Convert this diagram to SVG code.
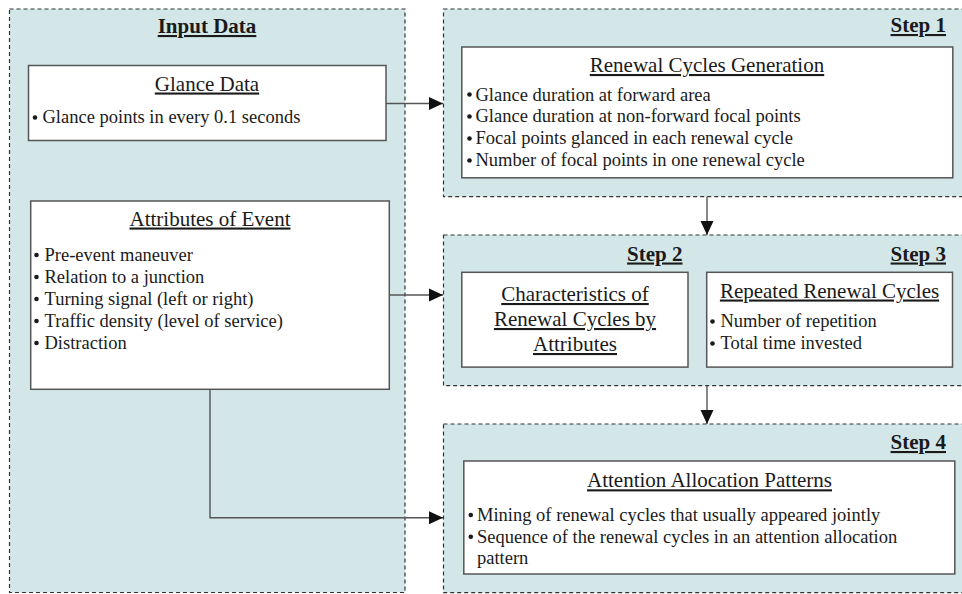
<svg xmlns="http://www.w3.org/2000/svg" width="962" height="594" viewBox="0 0 962 594">
<style>
.cont{fill:#d3e7e9;stroke:#333;stroke-width:1.2;stroke-dasharray:4,3}
.box{fill:#fff;stroke:#555;stroke-width:1.5}
text{font-family:"Liberation Serif","Times New Roman",serif;fill:#1a1a1a}
.hdr{font-size:21px;font-weight:bold;text-decoration:underline}
.ttl{font-size:21px;text-decoration:underline;text-anchor:middle}
.bul{font-size:18.5px}
.dot{fill:#1a1a1a}
.con{fill:none;stroke:#555;stroke-width:1.4}
</style>
<defs>
<marker id="ah" viewBox="0 0 14 14" refX="14" refY="7" markerWidth="14" markerHeight="14" markerUnits="userSpaceOnUse" orient="auto">
<path d="M0,0.5 L14,7 L0,13.5 Z" fill="#111"/>
</marker>
</defs>
<rect width="962" height="594" fill="#fff"/>

<g id="input-data">
<rect class="cont" x="9.5" y="9" width="395.5" height="583.5"/>
<text class="hdr" x="207" y="33" text-anchor="middle">Input Data</text>
</g>
<g id="step1">
<rect class="cont" x="443.5" y="9" width="530" height="187.7"/>
<text class="hdr" x="946" y="32" text-anchor="end">Step 1</text>
</g>
<g id="step23">
<rect class="cont" x="443.5" y="235" width="530" height="150.7"/>
<text class="hdr" x="682.5" y="260.5" text-anchor="end">Step 2</text>
<text class="hdr" x="946" y="260.5" text-anchor="end">Step 3</text>
</g>
<g id="step4">
<rect class="cont" x="443.5" y="424" width="530" height="168.7"/>
<text class="hdr" x="946" y="449" text-anchor="end">Step 4</text>
</g>

<g id="glance-data">
<rect class="box" x="28.5" y="65.5" width="357.5" height="75"/>
<text class="ttl" x="207" y="90.5">Glance Data</text>
<circle class="dot" cx="35" cy="117.5" r="2.3"/>
<text class="bul" x="42.5" y="123.3">Glance points in every 0.1 seconds</text>
</g>

<g id="attributes">
<rect class="box" x="30.7" y="201" width="358.6" height="188.3"/>
<text class="ttl" x="210" y="225.5">Attributes of Event</text>
<circle class="dot" cx="36.5" cy="255" r="2.3"/>
<text class="bul" x="44.5" y="261">Pre-event maneuver</text>
<circle class="dot" cx="36.5" cy="277" r="2.3"/>
<text class="bul" x="44.5" y="283">Relation to a junction</text>
<circle class="dot" cx="36.5" cy="299" r="2.3"/>
<text class="bul" x="44.5" y="305">Turning signal (left or right)</text>
<circle class="dot" cx="36.5" cy="321" r="2.3"/>
<text class="bul" x="44.5" y="327">Traffic density (level of service)</text>
<circle class="dot" cx="36.5" cy="343" r="2.3"/>
<text class="bul" x="44.5" y="349">Distraction</text>
</g>

<g id="renewal-generation">
<rect class="box" x="461.8" y="47" width="491" height="130.8"/>
<text class="ttl" x="707" y="72">Renewal Cycles Generation</text>
<circle class="dot" cx="469.5" cy="94.5" r="2.3"/>
<text class="bul" x="475.5" y="100.5">Glance duration at forward area</text>
<circle class="dot" cx="469.5" cy="116.5" r="2.3"/>
<text class="bul" x="475.5" y="122.3">Glance duration at non-forward focal points</text>
<circle class="dot" cx="469.5" cy="138.5" r="2.3"/>
<text class="bul" x="475.5" y="144.3">Focal points glanced in each renewal cycle</text>
<circle class="dot" cx="469.5" cy="160.5" r="2.3"/>
<text class="bul" x="475.5" y="166.3">Number of focal points in one renewal cycle</text>
</g>

<g id="characteristics">
<rect class="box" x="461.8" y="272.3" width="226.2" height="94.8"/>
<text class="ttl" x="575" y="301">Characteristics of</text>
<text class="ttl" x="575" y="326">Renewal Cycles by</text>
<text class="ttl" x="575" y="351">Attributes</text>
</g>

<g id="repeated">
<rect class="box" x="706.7" y="272.3" width="245.8" height="94.8"/>
<text class="ttl" x="829.5" y="297.5">Repeated Renewal Cycles</text>
<circle class="dot" cx="712.5" cy="321.5" r="2.3"/>
<text class="bul" x="720.5" y="327.3">Number of repetition</text>
<circle class="dot" cx="712.5" cy="343.5" r="2.3"/>
<text class="bul" x="720.5" y="349.3">Total time invested</text>
</g>

<g id="attention">
<rect class="box" x="463.8" y="461" width="491" height="113"/>
<text class="ttl" x="709.5" y="487.3">Attention Allocation Patterns</text>
<circle class="dot" cx="470.8" cy="515" r="2.3"/>
<text class="bul" x="477" y="521">Mining of renewal cycles that usually appeared jointly</text>
<circle class="dot" cx="470.8" cy="536.7" r="2.3"/>
<text class="bul" x="477" y="542.7">Sequence of the renewal cycles in an attention allocation</text>
<text class="bul" x="477" y="564">pattern</text>
</g>

<g id="connectors">
<path class="con" d="M386,103.5 H443" marker-end="url(#ah)"/>
<path class="con" d="M389.3,295 H443" marker-end="url(#ah)"/>
<path class="con" d="M210,389.3 V517.7 H443" marker-end="url(#ah)"/>
<path class="con" d="M707,196.7 V235" marker-end="url(#ah)"/>
<path class="con" d="M707,385.7 V424" marker-end="url(#ah)"/>
</g>
</svg>
